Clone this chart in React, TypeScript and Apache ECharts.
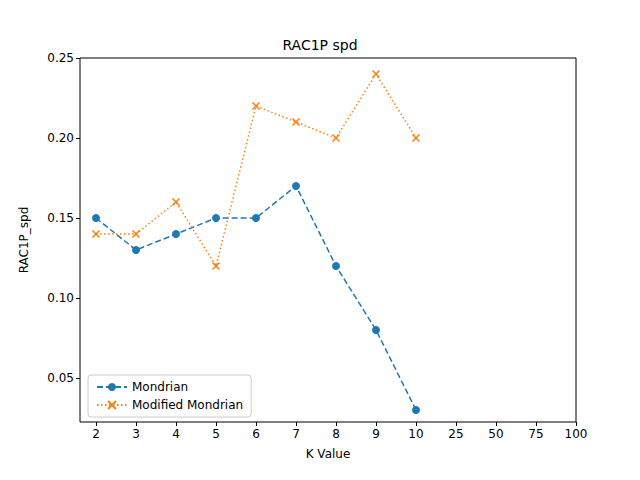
import { useEffect, useRef } from 'react'
import * as echarts from 'echarts'

const kValues = ['2', '3', '4', '5', '6', '7', '8', '9', '10', '25', '50', '75', '100']
const mondrian = [0.15, 0.13, 0.14, 0.15, 0.15, 0.17, 0.12, 0.08, 0.03]
const modified = [0.14, 0.14, 0.16, 0.12, 0.22, 0.21, 0.2, 0.24, 0.2]
const yTicks = [0.05, 0.1, 0.15, 0.2, 0.25]

const CROSS = 'path://M0,0L10,10M10,0L0,10'

export default function App() {
  const chartRef = useRef<HTMLDivElement>(null)

  useEffect(() => {
    if (!chartRef.current) return
    const chart = echarts.init(chartRef.current, null, { renderer: 'svg' })
    const font = 'DejaVu Sans'

    const option: echarts.EChartsOption = {
      animation: false,
      backgroundColor: '#fff',
      textStyle: { fontFamily: font },
      title: {
        text: 'RAC1P spd',
        left: 'center',
        top: 33,
        textStyle: { fontFamily: font, fontSize: 14, fontWeight: 'normal', color: '#000' },
      },
      grid: {
        left: 80,
        right: 64,
        top: 58,
        bottom: 58,
        show: true,
        borderColor: '#000',
        borderWidth: 1,
      },
      legend: {
        orient: 'vertical',
        left: 88,
        top: 375,
        itemWidth: 30,
        itemHeight: 10,
        itemGap: 6,
        padding: [6, 8],
        borderColor: '#ccc',
        borderWidth: 1,
        borderRadius: 3,
        backgroundColor: '#fff',
        textStyle: { fontFamily: font, fontSize: 12, color: '#000' },
        data: ['Mondrian', 'Modified Mondrian'],
      },
      xAxis: {
        type: 'value',
        min: -0.4,
        max: 12,
        name: 'K Value',
        nameLocation: 'middle',
        nameGap: 26,
        nameTextStyle: { fontFamily: font, fontSize: 12, color: '#000' },
        axisLine: { show: false, onZero: false },
        splitLine: { show: false },
        axisTick: {
          show: true,
          length: 4,
          lineStyle: { color: '#000' },
          customValues: kValues.map((_, i) => i),
        },
        axisLabel: {
          color: '#000',
          fontSize: 12,
          margin: 6,
          customValues: kValues.map((_, i) => i),
          formatter: (v: number) => kValues[Math.round(v)] ?? '',
        },
      },
      yAxis: {
        type: 'value',
        min: 0.0225,
        max: 0.25,
        name: 'RAC1P_spd',
        nameLocation: 'middle',
        nameGap: 50,
        nameTextStyle: { fontFamily: font, fontSize: 12, color: '#000' },
        axisLine: { show: false, onZero: false },
        splitLine: { show: false },
        axisTick: {
          show: true,
          length: 4,
          lineStyle: { color: '#000' },
          customValues: yTicks,
        },
        axisLabel: {
          color: '#000',
          fontSize: 12,
          margin: 6,
          customValues: yTicks,
          formatter: (v: number) => v.toFixed(2),
        },
      },
      series: [
        {
          name: 'Mondrian',
          type: 'line',
          data: mondrian.map((v, i) => [i, v]),
          symbol: 'circle',
          symbolSize: 8,
          color: '#1f77b4',
          lineStyle: { type: [6, 3], width: 1.5, color: '#1f77b4' },
          itemStyle: { color: '#1f77b4' },
        },
        {
          name: 'Modified Mondrian',
          type: 'line',
          data: modified.map((v, i) => [i, v]),
          symbol: CROSS,
          symbolSize: 7,
          color: '#ff7f0e',
          lineStyle: { type: [1.5, 2.5], width: 1.5, color: '#ff7f0e' },
          itemStyle: { color: '#ff7f0e', borderColor: '#ff7f0e', borderWidth: 1.5 },
        },
      ],
    }

    chart.setOption(option)
    return () => {
      chart.dispose()
    }
  }, [])

  return <div ref={chartRef} style={{ width: 640, height: 480, margin: -8 }} />
}
